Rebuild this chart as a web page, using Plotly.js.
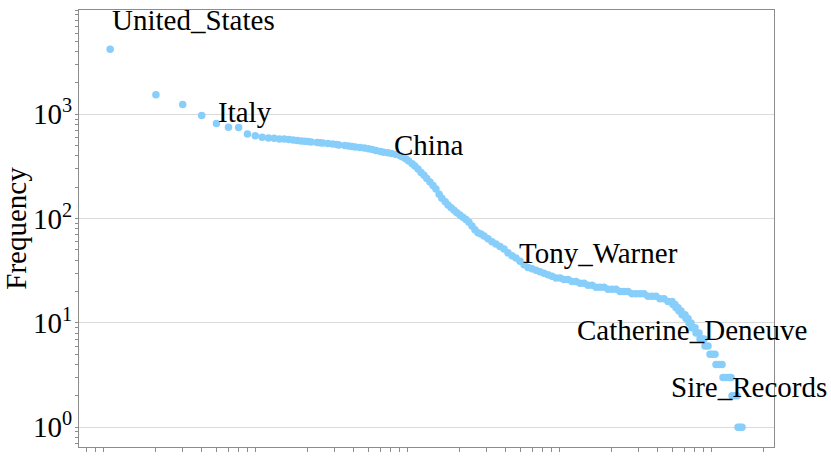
<!DOCTYPE html>
<html>
<head>
<meta charset="utf-8">
<script src="https://cdn.plot.ly/plotly-3.0.1.min.js"></script>
<style>
html, body { margin: 0; padding: 0; background: #fff; }
#chart { width: 831px; height: 457px; }
</style>
</head>
<body>
<div id="chart"></div>
<script>
// Rank of each item (x) and its frequency (y)
const ranks = [
  1, 2, 3, 4, 5, 6, 7, 8, 9, 10, 11, 12,
  13, 14, 15, 16, 17, 18, 19, 20, 21, 23, 24, 25, 27, 29, 31, 32, 35, 37, 39, 41,
  44, 47, 50, 53, 56, 60, 63, 67, 71, 76, 81, 84, 88, 92, 97, 101, 106, 111, 116,
  121, 127, 133, 139, 146, 152, 160, 167, 175, 183, 191, 200, 209, 219, 229, 240,
  251, 263, 275, 288, 306, 325, 345, 367, 390, 414, 440, 467, 497, 528, 561,
  596, 633, 672, 714, 759, 807, 857, 911, 967, 1028, 1092, 1160, 1233, 1309, 1391,
  1478, 1571, 1669, 1773, 1884, 2001, 2126, 2259, 2400, 2550, 2709, 2878, 3058,
  3249, 3453, 3668, 3897, 4141, 4399, 4674, 4967,
  5042, 5197, 5277, 5440, 5524, 5693, 5779, 6047, 6140, 6329, 6426, 6624,
  6725, 6880, 7039, 7146, 7478, 7592, 7825, 8066, 8189, 8571,
  8834, 9173, 9526, 9672, 10122, 10593, 10755, 11254, 11777, 12139,
  12326, 12800, 13296, 13500, 13914, 14343
];
const freqs = [
  4207, 1537, 1244, 976, 818, 752, 748, 647, 622, 601, 592, 588,
  579, 579, 573, 566, 560, 554, 552, 548, 542, 536, 534, 530, 524, 519, 513, 507, 502, 496, 491, 486,
  480, 475, 468, 459, 450, 440, 433, 427, 421, 412, 400, 389, 374, 357, 336, 319, 299, 276, 260,
  242, 224, 208, 192, 171, 157, 145, 135, 127, 120, 114, 108, 103, 98, 92, 85,
  78, 73, 71, 68, 64, 60, 57, 54, 51, 47, 44, 42, 39, 36, 34,
  33, 32, 31, 30, 29, 28, 27, 27, 26, 26, 25, 25, 24, 24, 23,
  23, 22, 22, 22, 21, 21, 21, 20, 20, 20, 19, 19, 19,
  19, 18, 18, 18, 17, 17, 16, 16,
  15, 15, 14, 14, 13, 13, 12, 12, 11, 11, 10, 10,
  9, 9, 9, 8, 8, 7, 7, 7, 6, 6,
  5, 5, 5, 4, 4, 4, 3, 3, 3, 3,
  2, 2, 2, 1, 1, 1
];
const labelNames = ['United_States', 'Italy', 'China', 'Tony_Warner', 'Catherine_Deneuve', 'Sire_Records'];
const yTickVals = [1, 10, 100, 1000, 10000];
const yTickText = ['10<sup>0</sup>', '10<sup>1</sup>', '10<sup>2</sup>', '10<sup>3</sup>', '10<sup>4</sup>'];

const FONT = 'Liberation Serif, Times New Roman, Times, serif';
const AXIS_COLOR = '#8c8c8c';

// label placement (log10 units on both axes): [x, y]
const labelPlace = [
  [0.005, 3.906],
  [0.703, 3.021],
  [1.860, 2.705],
  [2.683, 1.672],
  [3.064, 0.935],
  [3.683, 0.390]
];

const annotations = labelNames.map((t, i) => ({
  text: t,
  x: labelPlace[i][0],
  y: labelPlace[i][1],
  xref: 'x', yref: 'y',
  xanchor: 'left', yanchor: 'middle',
  showarrow: false,
  borderpad: 0,
  font: { family: FONT, size: 29, color: '#000' }
}));

const trace = {
  type: 'scatter',
  mode: 'markers',
  x: ranks,
  y: freqs,
  marker: { color: '#87CEFA', size: 7.5, line: { width: 0 } },
  hoverinfo: 'skip',
  cliponaxis: false
};

const layout = {
  width: 831,
  height: 457,
  margin: { l: 79, r: 57, t: 10, b: 9.5, pad: 0 },
  paper_bgcolor: '#fff',
  plot_bgcolor: '#fff',
  showlegend: false,
  hovermode: false,
  font: { family: FONT, size: 29, color: '#000' },
  xaxis: {
    type: 'log',
    range: [-0.205, 4.367],
    showgrid: false,
    zeroline: false,
    showline: true,
    mirror: true,
    linecolor: AXIS_COLOR,
    linewidth: 1,
    ticks: '',
    dtick: 1,
    showticklabels: false,
    minor: { ticks: 'outside', ticklen: 4, tickcolor: AXIS_COLOR, tickwidth: 1, showgrid: false },
    automargin: false
  },
  yaxis: {
    type: 'log',
    range: [-0.19, 4],
    tickmode: 'array',
    tickvals: yTickVals,
    ticktext: yTickText,
    ticks: '',
    showgrid: true,
    gridcolor: '#dadada',
    gridwidth: 1,
    zeroline: false,
    showline: true,
    mirror: true,
    linecolor: AXIS_COLOR,
    linewidth: 1,
    tickfont: { family: FONT, size: 29, color: '#000' },
    minor: { ticks: 'outside', ticklen: 3, tickcolor: AXIS_COLOR, tickwidth: 1, showgrid: false, dtick: 'D1' },
    title: { text: 'Frequency', font: { family: FONT, size: 29, color: '#000' }, standoff: 6 },
    automargin: false
  },
  annotations: annotations
};

Plotly.newPlot('chart', [trace], layout, { staticPlot: true, displayModeBar: false });
</script>
</body>
</html>
